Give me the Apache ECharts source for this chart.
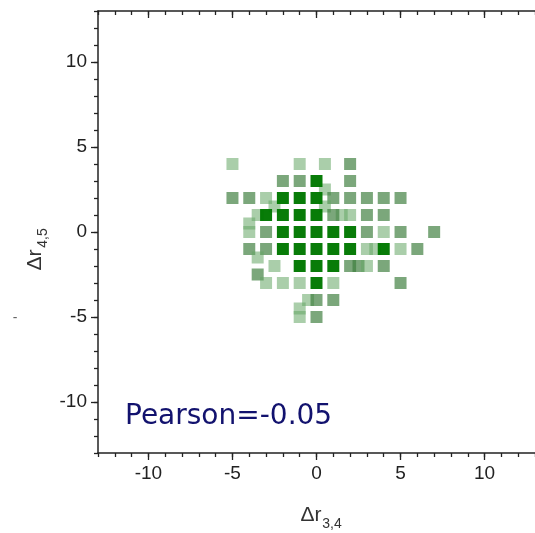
<!DOCTYPE html>
<html>
<head>
<meta charset="utf-8">
<script src="https://cdn.jsdelivr.net/npm/echarts@6/dist/echarts.min.js"></script>
<style>html,body{margin:0;padding:0;background:#fff;}#c{width:535px;height:533px;}</style>
</head>
<body>
<div id="c"></div>
<script>
// Data (Δr3,4 vs Δr4,5); counts = overlap density (1 light, 2 medium, 3 dark)
var xs = [-5,-1,0.5,2, -2,-1,0,2, 0.5, -5,-4,-3,-2,-1,0,1,2,3,4,5, -2.5,0.5,1.5, -3,-2,-1,0,1,2,3,4, -4,-3.5, -4,-3,-2,-1,0,1,2,3,4,5,7, -4,-3,-2,-1,0,1,2,3,3.5,4,5,6, -3.5,-2.5, -1,0,1,2,2.5,3,4, -3.5, -3,-2,-1,0,1,5, -0.5,0,1, -1,-1,0];
var ys = [4,4,4,4, 3,3,3,3, 2.5, 2,2,2,2,2,2,2,2,2,2,2, 1.5,1.5,1, 1,1,1,1,1,1,1,1, 0.5,1, 0,0,0,0,0,0,0,0,0,0,0, -1,-1,-1,-1,-1,-1,-1,-1,-1,-1,-1,-1, -1.5,-2, -2,-2,-2,-2,-2,-2,-2, -2.5, -3,-3,-3,-3,-3,-3, -4,-4,-4, -4.5,-5,-5];
var counts = [1,1,1,2, 2,2,3,2, 1, 2,2,1,3,3,3,2,2,2,2,2, 1,1,1, 3,3,3,3,2,1,2,2, 1,1, 1,2,3,3,3,3,3,2,1,2,2, 2,2,3,3,3,3,3,1,1,3,1,2, 1,1, 3,3,3,2,2,1,2, 2, 1,1,1,3,1,2, 1,2,2, 1,1,2];
var majorTicks = [-10,-5,0,5,10];
var allTicks = [];
for (var t = -13; t <= 13; t++) allTicks.push(t);
var xName = ['Δr', '3,4'];
var yName = ['Δr', '4,5'];
var annotation = 'Pearson=-0.05';

var shade = {1:'rgba(100,165,100,0.55)', 2:'rgba(60,125,60,0.68)', 3:'rgba(0,120,0,0.97)'};
var data = [];
for (var i = 0; i < xs.length; i++) {
  data.push({value:[xs[i], ys[i]], itemStyle:{color: shade[counts[i]]}});
}
data.sort(function(a,b){return (a.itemStyle.color===shade[3]?1:0)-(b.itemStyle.color===shade[3]?1:0);});

var lineStyle = {color:'#222', width:1.5};
function axisBase(pos, inside, len, ticks, labels, showLine) {
  return {
    type:'value', position:pos, min:-13, max:13, interval:1,
    axisLine:{show:showLine, onZero:false, lineStyle:lineStyle},
    axisTick:{show:true, inside:inside, length:len, customValues:ticks, lineStyle:{color:'#222', width:1.3}},
    axisLabel: labels ? {show:true, customValues:majorTicks, fontFamily:'Liberation Sans, Arial, sans-serif', fontSize:19, color:'#222', margin: 11} : {show:false},
    splitLine:{show:false}
  };
}
var chart = echarts.init(document.getElementById('c'), null, {renderer:'canvas'});
chart.setOption({
  animation:false,
  backgroundColor:'#fff',
  grid:{left:98, top:11, right:-6.3, bottom:80, containLabel:false},
  xAxis:[
    axisBase('bottom', false, 4, allTicks, false, true),
    axisBase('bottom', false, 7, majorTicks, true, false),
    axisBase('top', true, 4, allTicks, false, true),
    axisBase('top', true, 7, majorTicks, false, false)
  ],
  yAxis:[
    axisBase('left', false, 4, allTicks, false, true),
    axisBase('left', false, 7, majorTicks, true, false)
  ],
  series:[{
    type:'scatter', xAxisIndex:0, yAxisIndex:0,
    symbol:'rect', symbolSize:12,
    itemStyle:{opacity:1},
    data:data
  }],
  graphic:[
    {type:'text', left:125, top:403, style:{text:annotation, font:'28px "DejaVu Sans"', fill:'#12126e'}},
    {type:'text', x:311, y:515, style:{text:xName[0], font:'21px "Liberation Sans"', fill:'#333', align:'center', verticalAlign:'middle'}},
    {type:'text', x:332, y:524, style:{text:xName[1], font:'14px "Liberation Sans"', fill:'#333', align:'center', verticalAlign:'middle'}},
    {type:'text', x:35, y:260, rotation:Math.PI/2, style:{text:yName[0], font:'21px "Liberation Sans"', fill:'#333', align:'center', verticalAlign:'middle'}},
    {type:'text', x:43, y:238, rotation:Math.PI/2, style:{text:yName[1], font:'14px "Liberation Sans"', fill:'#333', align:'center', verticalAlign:'middle'}},
    {type:'text', x:15, y:318, style:{text:'-', font:'14px "Liberation Sans"', fill:'#666', align:'center', verticalAlign:'middle'}}
  ]
});
</script>
</body>
</html>
